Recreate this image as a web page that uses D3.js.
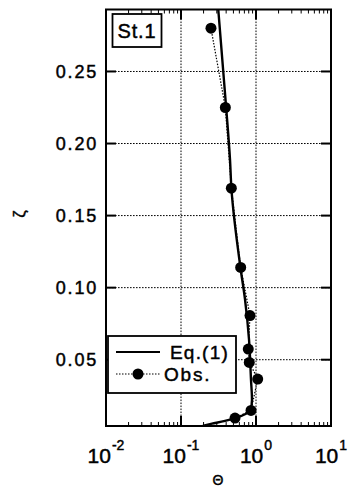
<!DOCTYPE html>
<html>
<head>
<meta charset="utf-8">
<script src="https://cdn.jsdelivr.net/npm/d3@7"></script>
<style>
  html, body { margin: 0; padding: 0; background: #fff; }
  svg { display: block; font-family: "Liberation Sans", Arial, Helvetica, sans-serif; }
  svg text { fill: #000; stroke: #000; stroke-width: 0.45px; }
</style>
</head>
<body>
<svg id="chart" width="351" height="488"></svg>
<script>
// Observed profile (St.1): dimensionless Θ against height ζ
const obsZeta  = [0.280, 0.225, 0.169, 0.114, 0.0806, 0.0574, 0.0481, 0.0366, 0.0148, 0.0095];
const obsTheta = [0.251, 0.390, 0.469, 0.625, 0.832, 0.789, 0.814, 1.054, 0.858, 0.525];

// Eq.(1) curve
const eqZeta  = [0.293, 0.225, 0.189, 0.169, 0.114, 0.092, 0.064, 0.036, 0.022, 0.0153, 0.0125, 0.0097, 0.0076, 0.0056, 0.0042];
const eqTheta = [0.314, 0.400, 0.450, 0.470, 0.620, 0.713, 0.807, 0.858, 0.884, 0.845, 0.736, 0.541, 0.386, 0.259, 0.196];

// Axis ticks
const xTickValues = [0.01, 0.1, 1, 10];
const xTickExps   = ["-2", "-1", "0", "1"];
const yTickValues = [0.05, 0.10, 0.15, 0.20, 0.25];
const yTickLabels = ["0.05", "0.10", "0.15", "0.20", "0.25"];

const svg = d3.select("#chart");
const L = 106, R = 331, T = 9.5, B = 426;

const x = d3.scaleLog().domain([0.01, 10]).range([L, R]);
const y = d3.scaleLinear().domain([0.004, 0.293]).range([B, T]);

// dotted grid
const grid = svg.append("g").attr("stroke", "#000").attr("stroke-width", 1)
  .attr("stroke-dasharray", "1.6,1.4");
grid.selectAll("line.v").data([0.1, 1]).join("line")
  .attr("x1", d => x(d)).attr("x2", d => x(d)).attr("y1", T).attr("y2", B);
grid.selectAll("line.h").data(yTickValues).join("line")
  .attr("x1", L).attr("x2", R).attr("y1", d => y(d)).attr("y2", d => y(d));

// inward ticks on all four sides
const tickG = svg.append("g").attr("stroke", "#000");
const minor = [];
[0.01, 0.1, 1].forEach(b => { for (let k = 2; k <= 9; k++) minor.push(b * k); });
[B, T].forEach(edge => {
  const dir = edge === B ? -1 : 1;
  tickG.append("g").selectAll("line").data(xTickValues).join("line")
    .attr("stroke-width", 2)
    .attr("x1", d => x(d)).attr("x2", d => x(d))
    .attr("y1", edge).attr("y2", edge + dir * 10);
  tickG.append("g").selectAll("line").data(minor).join("line")
    .attr("stroke-width", 1)
    .attr("x1", d => x(d)).attr("x2", d => x(d))
    .attr("y1", edge).attr("y2", edge + dir * 4);
});
[L, R].forEach(edge => {
  const dir = edge === L ? 1 : -1;
  tickG.append("g").selectAll("line").data(yTickValues).join("line")
    .attr("stroke-width", 2)
    .attr("x1", edge).attr("x2", edge + dir * 10)
    .attr("y1", d => y(d)).attr("y2", d => y(d));
});

// Eq.(1) line
const eqData = eqZeta.map((z, i) => ({ z, t: eqTheta[i] }));
svg.append("path").datum(eqData)
  .attr("fill", "none").attr("stroke", "#000").attr("stroke-width", 2.4)
  .attr("stroke-linejoin", "round")
  .attr("d", d3.line().x(d => x(d.t)).y(d => y(d.z)).curve(d3.curveMonotoneY));

// observations: dotted connector + filled markers
const obsData = obsZeta.map((z, i) => ({ z, t: obsTheta[i] }));
svg.append("path").datum(obsData)
  .attr("fill", "none").attr("stroke", "#000").attr("stroke-width", 1.2)
  .attr("stroke-dasharray", "1.5,1.5")
  .attr("d", d3.line().x(d => x(d.t)).y(d => y(d.z)));
svg.append("g").selectAll("circle").data(obsData).join("circle")
  .attr("cx", d => x(d.t)).attr("cy", d => y(d.z)).attr("r", 5.5).attr("fill", "#000");

// frame
svg.append("rect").attr("x", L).attr("y", T).attr("width", R - L).attr("height", B - T)
  .attr("fill", "none").attr("stroke", "#000").attr("stroke-width", 2);

// y tick labels
svg.append("g").selectAll("text").data(yTickValues).join("text")
  .attr("x", 98).attr("y", d => y(d)).attr("dy", "0.36em")
  .attr("text-anchor", "end").attr("font-size", 18).attr("letter-spacing", 1.8)
  .text((d, i) => yTickLabels[i]);

// x tick labels: powers of ten
const xl = svg.append("g").selectAll("text").data(xTickValues).join("text")
  .attr("x", d => x(d)).attr("y", 463).attr("text-anchor", "middle").attr("font-size", 21);
xl.append("tspan").text("10");
xl.append("tspan").attr("dx", 1).attr("dy", -13).attr("font-size", 14).text((d, i) => xTickExps[i]);

// axis titles
svg.append("text").attr("x", 218).attr("y", 485).attr("text-anchor", "middle")
  .attr("font-size", 14).text("Θ");
svg.append("text").attr("transform", "translate(25,214) rotate(-90)")
  .attr("text-anchor", "middle").attr("font-size", 17).text("ζ");

// station label
svg.append("rect").attr("x", 112.5).attr("y", 14).attr("width", 49).attr("height", 33)
  .attr("fill", "#fff").attr("stroke", "#000").attr("stroke-width", 1.8);
svg.append("text").attr("x", 137).attr("y", 38).attr("text-anchor", "middle")
  .attr("font-size", 20).attr("letter-spacing", 0.8).text("St.1");

// legend
const lg = svg.append("g");
lg.append("rect").attr("x", 108).attr("y", 336).attr("width", 128).attr("height", 57)
  .attr("fill", "#fff").attr("stroke", "#000").attr("stroke-width", 1.8);
lg.append("line").attr("x1", 116).attr("x2", 160).attr("y1", 352).attr("y2", 352)
  .attr("stroke", "#000").attr("stroke-width", 1.8);
lg.append("text").attr("x", 170).attr("y", 352).attr("dy", "0.36em")
  .attr("font-size", 19).attr("letter-spacing", 1.2).text("Eq.(1)");
lg.append("line").attr("x1", 116).attr("x2", 160).attr("y1", 374).attr("y2", 374)
  .attr("stroke", "#000").attr("stroke-width", 1.2).attr("stroke-dasharray", "1.5,1.5");
lg.append("circle").attr("cx", 138).attr("cy", 374).attr("r", 5.5).attr("fill", "#000");
lg.append("text").attr("x", 164).attr("y", 374).attr("dy", "0.36em")
  .attr("font-size", 19).attr("letter-spacing", 1.8).text("Obs.");
</script>
</body>
</html>
